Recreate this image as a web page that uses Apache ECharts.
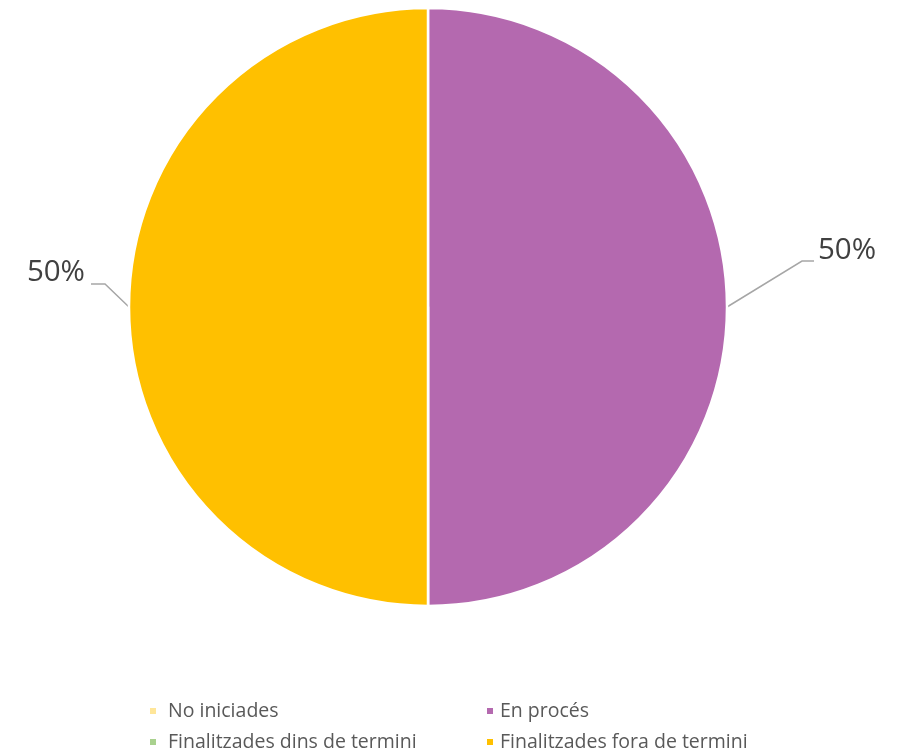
<!DOCTYPE html>
<html>
<head>
<meta charset="utf-8">
<script src="https://cdn.jsdelivr.net/npm/echarts@6/dist/echarts.min.js"></script>
<style>
  html, body { margin: 0; padding: 0; background: #fff; }
  #chart { width: 907px; height: 755px; }
</style>
</head>
<body>
<div id="chart"></div>
<script>
// Estat de les tasques
const categories = ['No iniciades', 'En procés', 'Finalitzades dins de termini', 'Finalitzades fora de termini'];
const values = [0, 1, 0, 1];
const colors = ['#FFE699', '#B469AF', '#A9D18E', '#FFC000'];

const total = values.reduce((a, b) => a + b, 0);

const pieData = categories.map((name, i) => {
  const item = { name: name, value: values[i], itemStyle: { color: colors[i] } };
  if (values[i] === 0) {
    item.label = { show: false };
    item.labelLine = { show: false };
  }
  return item;
});

const chart = echarts.init(document.getElementById('chart'), null, { renderer: 'canvas' });

function legendText(gap) {
  return {
    color: '#595959',
    fontFamily: 'Open Sans',
    fontSize: 19.5,
    lineHeight: 20,
    padding: [0, 0, 0, gap]
  };
}

const legendBase = {
  orient: 'vertical',
  top: 701,
  height: 70,
  padding: 0,
  itemWidth: 8,
  itemHeight: 8,
  itemGap: 11,
  icon: 'rect'
};

chart.setOption({
  animation: false,
  color: colors,
  legend: [
    Object.assign({}, legendBase, { left: 148, data: [categories[0], categories[2]], textStyle: legendText(6) }),
    Object.assign({}, legendBase, { left: 485, data: [categories[1], categories[3]], textStyle: legendText(1) })
  ],
  series: [{
    type: 'pie',
    center: [428, 307],
    radius: [0, 299],
    startAngle: 90,
    clockwise: true,
    data: pieData,
    itemStyle: { borderColor: '#fff', borderWidth: 2.5 },
    label: {
      show: true,
      formatter: (p) => Math.round(p.value / total * 100) + '%',
      color: '#404040',
      fontFamily: 'Open Sans',
      fontSize: 29.5
    },
    labelLine: {
      show: true,
      lineStyle: { color: '#A6A6A6', width: 1.5 }
    },
    labelLayout: function (params) {
      const pts = params.labelLinePoints;
      if (!pts) return {};
      const s = pts[0];
      const right = s[0] > 428;
      if (right) {
        return {
          x: s[0] + 91,
          y: s[1] - 56,
          align: 'left',
          verticalAlign: 'middle',
          labelLinePoints: [s, [s[0] + 75, s[1] - 46], [s[0] + 87, s[1] - 46]]
        };
      }
      return {
        x: s[0] - 44,
        y: s[1] - 34,
        align: 'right',
        verticalAlign: 'middle',
        labelLinePoints: [s, [s[0] - 24, s[1] - 23], [s[0] - 38, s[1] - 23]]
      };
    }
  }]
});
</script>
</body>
</html>
